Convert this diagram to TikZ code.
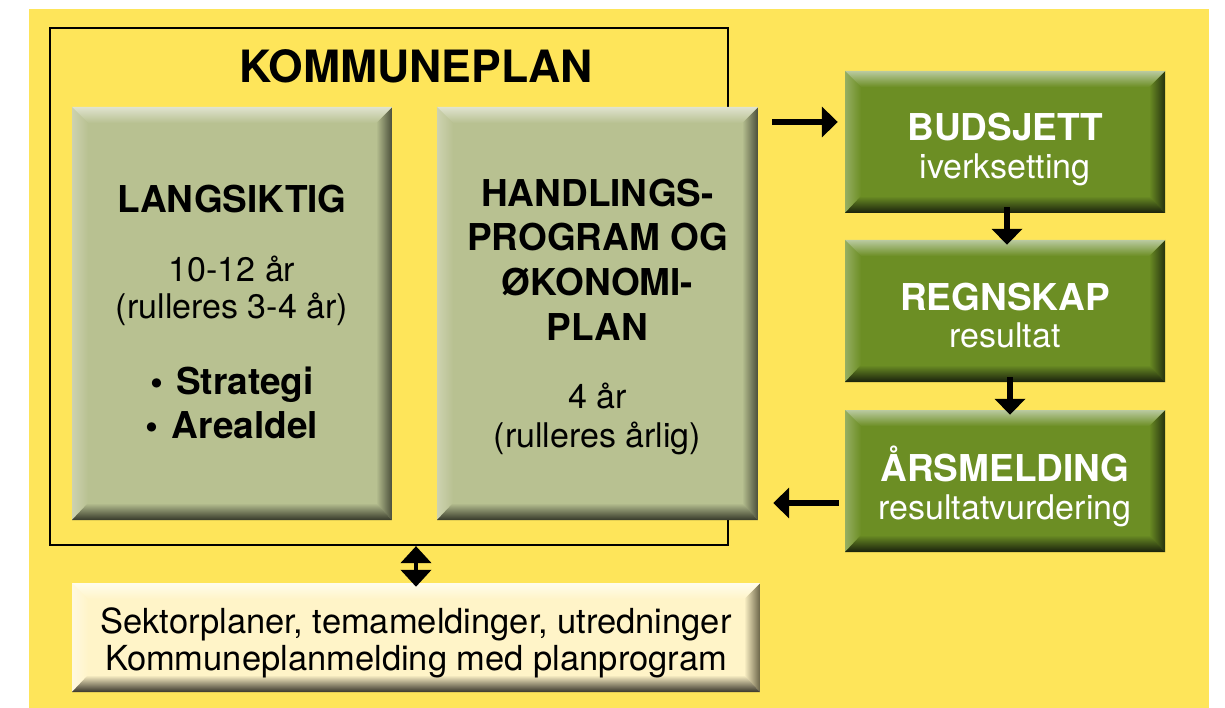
\documentclass[tikz,border=0pt]{standalone}
\usepackage{fontspec}
\setmainfont{TeX Gyre Heros}
\usetikzlibrary{arrows.meta}
\definecolor{bgyellow}{HTML}{FEE55A}
\definecolor{olive}{HTML}{B8C191}
\definecolor{olivetop}{HTML}{E0E3CF}
\definecolor{oliveleft}{HTML}{CDD2B0}
\definecolor{oliveright}{HTML}{4A4E3A}
\definecolor{olivebot}{HTML}{36392A}
\definecolor{grn}{HTML}{6C8E24}
\definecolor{grntop}{HTML}{BACAA0}
\definecolor{grnleft}{HTML}{95AE62}
\definecolor{grnright}{HTML}{26330F}
\definecolor{grnbot}{HTML}{18200C}
\definecolor{cream}{HTML}{FFF4C8}
\definecolor{creamtop}{HTML}{FFFCEC}
\definecolor{creamleft}{HTML}{FFF9E0}
\definecolor{creamright}{HTML}{6A6448}
\definecolor{creambot}{HTML}{38352A}
\tikzset{
  bevel/.style n args={5}{fill=#1, draw=none, inner sep=0pt,
    path picture={
      \coordinate (pa) at (path picture bounding box.north west);
      \coordinate (pb) at (path picture bounding box.north east);
      \coordinate (pc) at (path picture bounding box.south east);
      \coordinate (pd) at (path picture bounding box.south west);
      \shade[left color=#3, right color=#1] (pa) -- ([shift={(16pt,-16pt)}]pa) -- ([shift={(16pt,16pt)}]pd) -- (pd) -- cycle;
      \shade[left color=#1, right color=#4] (pb) -- ([shift={(-16pt,-16pt)}]pb) -- ([shift={(-16pt,16pt)}]pc) -- (pc) -- cycle;
      \shade[top color=#2, bottom color=#1] (pa) -- (pb) -- ([shift={(-16pt,-16pt)}]pb) -- ([shift={(16pt,-16pt)}]pa) -- cycle;
      \shade[top color=#1, bottom color=#5] (pd) -- (pc) -- ([shift={(-16pt,17pt)}]pc) -- ([shift={(16pt,17pt)}]pd) -- cycle;
    }},
  olivebox/.style={bevel={olive}{olivetop}{oliveleft}{oliveright}{olivebot}},
  greenbox/.style={bevel={grn}{grntop}{grnleft}{grnright}{grnbot}, minimum width=320pt, minimum height=142pt},
  creambox/.style={bevel={cream}{creamtop}{creamleft}{creamright}{creambot}},
  hd/.style={font=\fontsize{37}{40}\selectfont\bfseries, anchor=base, inner sep=0pt},
  tx/.style={font=\fontsize{34}{38}\selectfont, anchor=base, inner sep=0pt},
  arr/.style={line width=6pt, -{Triangle[width=30pt,length=16pt]}},
  darr/.style={line width=4.5pt, {Triangle[width=30pt,length=17pt]}-{Triangle[width=30pt,length=17pt]}},
}
\begin{document}
\begin{tikzpicture}[x=1pt, y=-1pt]
\useasboundingbox (0,0) rectangle (1225,708);
\fill[bgyellow] (29,9) rectangle (1209,708);

% frame
\node[draw=black, line width=2.2pt, minimum width=678pt, minimum height=517pt, inner sep=0pt] (kp) at (389,286.5) {};
\node[hd, font=\fontsize{44.5}{48}\selectfont\bfseries] (kptitle) at (416,83) {KOMMUNEPLAN};

% olive boxes
\node[olivebox, minimum width=320pt, minimum height=413pt] (lang) at (232,313.5) {};
\node[olivebox, minimum width=321pt, minimum height=413pt] (hand) at (597.5,313.5) {};

\node[hd] (l1) at (232,213) {LANGSIKTIG};
\node[tx] (l2) at (232,282) {10-12 år};
\node[tx] (l3) at (232,319) {(rulleres 3-4 år)};
\node[hd] (l4) at (232,394) {\textbullet\hspace{0.35em}Strategi};
\node[hd] (l5) at (232,438) {\textbullet\hspace{0.35em}Arealdel};

\node[hd] (h1) at (597.5,207) {HANDLINGS-};
\node[hd] (h2) at (597.5,251) {PROGRAM OG};
\node[hd] (h3) at (597.5,296) {ØKONOMI-};
\node[hd] (h4) at (597.5,340) {PLAN};
\node[tx] (h5) at (597.5,408) {4 år};
\node[tx] (h6) at (597.5,447) {(rulleres årlig)};

% green boxes
\node[greenbox] (bud) at (1005,142) {};
\node[greenbox] (reg) at (1005,311) {};
\node[greenbox] (ars) at (1005,481) {};

\node[hd, text=white] (b1) at (1005,141) {BUDSJETT};
\node[tx, text=white] (b2) at (1005,179) {iverksetting};
\node[hd, text=white] (r1) at (1005,310) {REGNSKAP};
\node[tx, text=white] (r2) at (1005,347) {resultat};
\node[hd, text=white] (a1) at (1005,481) {ÅRSMELDING};
\node[tx, text=white] (a2) at (1005,519) {resultatvurdering};

% bottom box
\node[creambox, minimum width=688pt, minimum height=109pt] (sek) at (416,637.5) {};
\node[tx, font=\fontsize{34.5}{38}\selectfont] (s1) at (416,633) {Sektorplaner, temameldinger, utredninger};
\node[tx, font=\fontsize{34.5}{38}\selectfont] (s2) at (416,670) {Kommuneplanmelding med planprogram};

% arrows
\draw[arr] ([shift={(14pt,20pt)}]hand.east |- bud.west) -- ([shift={(-7pt,20pt)}]bud.west);
\draw[arr] ([shift={(2pt,6pt)}]bud.south) -- ([shift={(2pt,-5pt)}]reg.north);
\draw[arr] ([shift={(5pt,5pt)}]reg.south) -- ([shift={(5pt,-5pt)}]ars.north);
\draw[arr] ([shift={(-6pt,-22pt)}]ars.west) -- ([shift={(15pt,-22pt)}]hand.east |- ars.west);
\draw[darr] (kp.south -| sek.north) -- ([yshift=-4pt]sek.north);
\end{tikzpicture}
\end{document}
